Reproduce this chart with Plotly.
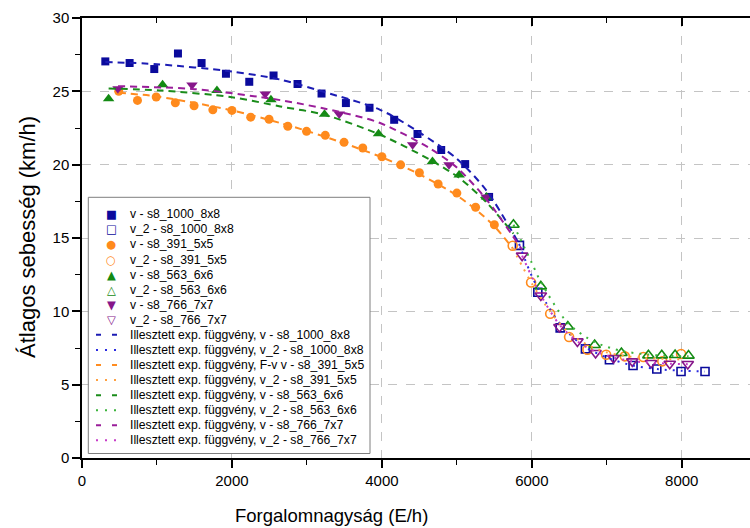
import plotly.graph_objects as go

# ---------------- data ----------------
# v - s8_1000_8x8 (filled squares)
v1000_x = [311, 635, 964, 1280, 1595, 1920, 2231, 2555, 2875, 3195, 3520, 3835, 4164, 4475, 4791, 5111, 5430]
v1000_y = [27.04, 26.93, 26.52, 27.58, 26.93, 26.2, 25.65, 26.08, 25.5, 24.85, 24.2, 23.88, 23.06, 22.09, 21.0, 20.04, 17.8]
# v_2 - s8_1000_8x8 (open squares)
v2_1000_x = [5835, 6080, 6378, 6715, 7035, 7350, 7667, 7990, 8310]
v2_1000_y = [14.5, 11.3, 8.87, 7.44, 6.7, 6.31, 6.07, 5.9, 5.9]

# v - s8_391_5x5 (filled circles)
v391_x = [490, 740, 990, 1245, 1495, 1745, 2000, 2250, 2495, 2745, 2995, 3245, 3495, 3745, 4000, 4250, 4500, 4750, 5000, 5250, 5500]
v391_y = [25.0, 24.38, 24.61, 24.22, 24.02, 23.74, 23.7, 23.24, 23.1, 22.62, 22.27, 22.0, 21.52, 21.14, 20.54, 19.99, 19.45, 18.68, 18.06, 17.1, 15.9]
# v_2 - s8_391_5x5 (open circles)
v2_391_x = [5745, 5990, 6245, 6497, 6741, 6991, 7240, 7488, 7740, 7991]
v2_391_y = [14.47, 11.97, 9.84, 8.25, 7.38, 7.04, 6.93, 6.89, 6.59, 7.09]

# v - s8_563_6x6 (filled triangles up)
v563_x = [355, 1075, 1800, 2520, 3235, 3955, 4675, 5030, 5395]
v563_y = [24.5, 25.45, 25.05, 24.42, 23.43, 22.1, 20.22, 19.3, 17.8]
# v_2 - s8_563_6x6 (open triangles up)
v2_563_x = [5755, 6120, 6480, 6838, 7195, 7555, 7733, 7911, 8090]
v2_563_y = [15.9, 11.7, 8.97, 7.7, 7.16, 7.0, 7.0, 7.02, 6.98]

# v - s8_766_7x7 (filled triangles down)
v766_x = [480, 1467, 2444, 3431, 4410, 4895, 5391]
v766_y = [25.17, 25.44, 24.81, 23.45, 21.36, 20.0, 17.79]
# v_2 - s8_766_7x7 (open triangles down)
v2_766_x = [5870, 6120, 6368, 6608, 6850, 7090, 7340, 7590, 7840, 8080]
v2_766_y = [13.8, 11.08, 8.93, 7.95, 7.16, 6.82, 6.59, 6.48, 6.43, 6.41]

# fitted exponential curves
fit_v1000_x = [311, 1000, 2000, 2645, 3200, 3977, 4500, 5000, 5400, 5830]
fit_v1000_y = [27.0, 26.85, 26.35, 25.8, 25.0, 23.74, 22.2, 20.4, 18.2, 14.6]
fit_v2_1000_x = [5830, 6000, 6200, 6400, 6700, 7000, 7350, 7700, 8000, 8310]
fit_v2_1000_y = [14.6, 12.4, 10.5, 9.0, 7.6, 6.85, 6.3, 6.05, 5.95, 5.9]

fit_v391_x = [490, 1000, 2000, 2645, 3000, 3500, 4000, 4500, 5000, 5250, 5500, 5745]
fit_v391_y = [24.9, 24.65, 23.7, 22.84, 22.3, 21.45, 20.5, 19.35, 17.9, 16.95, 15.8, 14.3]
fit_v2_391_x = [5745, 6000, 6250, 6500, 6750, 7000, 7250, 7500, 7750, 7991]
fit_v2_391_y = [14.3, 11.9, 9.95, 8.5, 7.7, 7.2, 6.95, 6.82, 6.76, 6.72]

fit_v563_x = [355, 1075, 2000, 2645, 3235, 3977, 4644, 5031, 5400, 5755]
fit_v563_y = [25.2, 25.05, 24.6, 23.97, 23.4, 22.04, 20.33, 19.1, 17.4, 15.3]
fit_v2_563_x = [5755, 6000, 6120, 6480, 6840, 7200, 7555, 7900, 8090]
fit_v2_563_y = [15.9, 13.3, 12.0, 9.2, 7.9, 7.3, 7.05, 6.95, 6.93]

fit_v766_x = [480, 1500, 2645, 3431, 3977, 4644, 5000, 5400, 5870]
fit_v766_y = [25.35, 25.15, 24.4, 23.6, 22.84, 21.1, 19.8, 17.6, 14.2]
fit_v2_766_x = [5870, 6120, 6368, 6608, 6850, 7090, 7340, 7590, 7840, 8080]
fit_v2_766_y = [13.8, 11.1, 9.1, 7.95, 7.25, 6.85, 6.6, 6.5, 6.43, 6.4]

x_tick_vals = [0, 2000, 4000, 6000, 8000]
x_tick_text = ["0", "2000", "4000", "6000", "8000"]
y_tick_vals = [0, 5, 10, 15, 20, 25, 30]
y_tick_text = ["0", "5", "10", "15", "20", "25", "30"]

x_title = "Forgalomnagyság (E/h)"
y_title = "Átlagos sebesség (km/h)"

series_names = [
    "v - s8_1000_8x8", "v_2 - s8_1000_8x8",
    "v - s8_391_5x5", "v_2 - s8_391_5x5",
    "v - s8_563_6x6", "v_2 - s8_563_6x6",
    "v - s8_766_7x7", "v_2 - s8_766_7x7",
]
fit_names = [
    "Illesztett exp. függvény, v - s8_1000_8x8",
    "Illesztett exp. függvény, v_2 - s8_1000_8x8",
    "Illesztett exp. függvény, F-v v - s8_391_5x5",
    "Illesztett exp. függvény, v_2 - s8_391_5x5",
    "Illesztett exp. függvény, v - s8_563_6x6",
    "Illesztett exp. függvény, v_2 - s8_563_6x6",
    "Illesztett exp. függvény, v - s8_766_7x7",
    "Illesztett exp. függvény, v_2 - s8_766_7x7",
]

# ---------------- styles ----------------
BLUE = "#0A0A9C"
ORANGE = "#FF8A1C"
GREEN = "#138A13"
PURPLE = "#86168A"
FIT_COLORS = ["#1C1CB4", "#2B2BE0", "#FF8C20", "#FFA040", "#1A8C1A", "#3CB43C", "#9A1E9A", "#C83CC8"]
DASH = "7px,5px"
DOT = "2px,6px"

fig = go.Figure()

def markers(x, y, name, symbol, color, size, open_=False):
    fig.add_trace(go.Scatter(
        x=x, y=y, mode="markers", name=name,
        marker=dict(symbol=symbol, size=size, color=color,
                    line=dict(color=color, width=1.6 if open_ else 0)),
    ))

markers(v1000_x, v1000_y, series_names[0], "square", BLUE, 8)
markers(v2_1000_x, v2_1000_y, series_names[1], "square-open", BLUE, 8, True)
markers(v391_x, v391_y, series_names[2], "circle", ORANGE, 9)
markers(v2_391_x, v2_391_y, series_names[3], "circle-open", ORANGE, 9, True)
markers(v563_x, v563_y, series_names[4], "triangle-up", GREEN, 10)
markers(v2_563_x, v2_563_y, series_names[5], "triangle-up-open", GREEN, 10, True)
markers(v766_x, v766_y, series_names[6], "triangle-down", PURPLE, 10)
markers(v2_766_x, v2_766_y, series_names[7], "triangle-down-open", PURPLE, 10, True)

def fitline(x, y, name, color, dash):
    fig.add_trace(go.Scatter(
        x=x, y=y, mode="lines", name=name,
        line=dict(color=color, width=2, dash=dash, shape="spline", smoothing=0.8),
    ))

fit_data = [
    (fit_v1000_x, fit_v1000_y), (fit_v2_1000_x, fit_v2_1000_y),
    (fit_v391_x, fit_v391_y), (fit_v2_391_x, fit_v2_391_y),
    (fit_v563_x, fit_v563_y), (fit_v2_563_x, fit_v2_563_y),
    (fit_v766_x, fit_v766_y), (fit_v2_766_x, fit_v2_766_y),
]
for i, (fx, fy) in enumerate(fit_data):
    fitline(fx, fy, fit_names[i], FIT_COLORS[i], DASH if i % 2 == 0 else DOT)

# invisible trace so that the top (mirror) axis exists
fig.add_trace(go.Scatter(x=[0], y=[0], xaxis="x2", mode="markers",
                         marker=dict(opacity=0), showlegend=False, hoverinfo="skip"))

FONT = "Liberation Sans, Arial, sans-serif"
XR = [0, 8910]
W, H = 750, 528
ML, MR, MT, MB = 82, 0, 18, 70

def px2paper_x(px):
    return (px - ML) / (W - ML - MR)

def px2paper_y(py):
    return (H - MB - py) / (H - MT - MB)

# ---------------- compact legend (drawn as annotations in a box) ----------------
legend_symbols = ["\u25A0", "\u25A1", "\u25CF", "\u25CB", "\u25B2", "\u25B3", "\u25BC", "\u25BD"]
legend_colors = [BLUE, BLUE, ORANGE, ORANGE, GREEN, GREEN, PURPLE, PURPLE]
row0, row_step = 214.3, 15.07
sym_x, txt_x = 111, 128
LEG_FS = 12.2

annotations = []
shapes = [dict(type="rect", xref="paper", yref="paper",
               x0=px2paper_x(88.3), x1=px2paper_x(370), y0=px2paper_y(453.5), y1=px2paper_y(197.3),
               line=dict(color="#7F7F7F", width=1), fillcolor="white", layer="above")]
for i in range(8):
    ry = row0 + i * row_step
    annotations.append(dict(text=legend_symbols[i], xref="paper", yref="paper",
                            x=px2paper_x(sym_x), y=px2paper_y(ry), xanchor="center", yanchor="middle",
                            showarrow=False, font=dict(size=11.5, family="DejaVu Sans", color=legend_colors[i])))
    annotations.append(dict(text=series_names[i], xref="paper", yref="paper",
                            x=px2paper_x(txt_x), y=px2paper_y(ry), xanchor="left", yanchor="middle",
                            showarrow=False, font=dict(size=LEG_FS, family=FONT, color="black")))
for i in range(8):
    ry = row0 + (8 + i) * row_step
    shapes.append(dict(type="line", xref="paper", yref="paper",
                       x0=px2paper_x(96), x1=px2paper_x(118), y0=px2paper_y(ry), y1=px2paper_y(ry),
                       line=dict(color=FIT_COLORS[i], width=2,
                                 dash="5px,11px" if i % 2 == 0 else "2px,7px"),
                       layer="above"))
    annotations.append(dict(text=fit_names[i], xref="paper", yref="paper",
                            x=px2paper_x(txt_x), y=px2paper_y(ry), xanchor="left", yanchor="middle",
                            showarrow=False, font=dict(size=LEG_FS, family=FONT, color="black")))

annotations += [
    dict(text=x_title, xref="paper", yref="paper", x=px2paper_x(331), y=px2paper_y(515),
         xanchor="center", yanchor="middle", showarrow=False,
         font=dict(size=18.5, family=FONT, color="black")),
    dict(text=y_title, xref="paper", yref="paper", x=px2paper_x(28), y=px2paper_y(237),
         xanchor="center", yanchor="middle", textangle=-90, showarrow=False,
         font=dict(size=22, family=FONT, color="black")),
]

fig.update_layout(
    width=W, height=H,
    margin=dict(l=ML, r=MR, t=MT, b=MB, autoexpand=False),
    paper_bgcolor="white", plot_bgcolor="white",
    font=dict(family=FONT, color="black"),
    showlegend=False,
    xaxis=dict(
        range=XR, tickvals=x_tick_vals, ticktext=x_tick_text, automargin=False,
        showline=True, linecolor="black", linewidth=1.5,
        ticks="outside", ticklen=8, tickwidth=1.5, tickcolor="black",
        minor=dict(dtick=1000, ticks="outside", ticklen=5, tickwidth=1.2, tickcolor="black", showgrid=False),
        showgrid=True, gridcolor="#C4C4C4", griddash="dash", gridwidth=1,
        zeroline=False, tickfont=dict(size=15, family=FONT),
    ),
    xaxis2=dict(
        range=XR, overlaying="x", side="top", anchor="y", automargin=False,
        tickvals=x_tick_vals, showticklabels=False,
        showline=True, linecolor="black", linewidth=1.5,
        ticks="inside", ticklen=8, tickwidth=1.5, tickcolor="black",
        minor=dict(dtick=1000, ticks="inside", ticklen=5, tickwidth=1.2, tickcolor="black", showgrid=False),
        showgrid=False, zeroline=False,
    ),
    yaxis=dict(
        range=[0, 30], tickvals=y_tick_vals, ticktext=y_tick_text, automargin=False,
        showline=True, linecolor="black", linewidth=1.5,
        ticks="outside", ticklen=8, tickwidth=1.5, tickcolor="black",
        minor=dict(dtick=2.5, ticks="outside", ticklen=5, tickwidth=1.2, tickcolor="black", showgrid=False),
        showgrid=True, gridcolor="#C4C4C4", griddash="dash", gridwidth=1,
        zeroline=False, tickfont=dict(size=15, family=FONT),
    ),
    annotations=annotations,
    shapes=shapes,
)

# remove the default page margin so the 750x528 figure fills the window exactly
fig.write_html(
    "out.html",
    config={"displayModeBar": False},
    post_script="document.body.style.margin='0';document.body.style.overflow='hidden';",
)
